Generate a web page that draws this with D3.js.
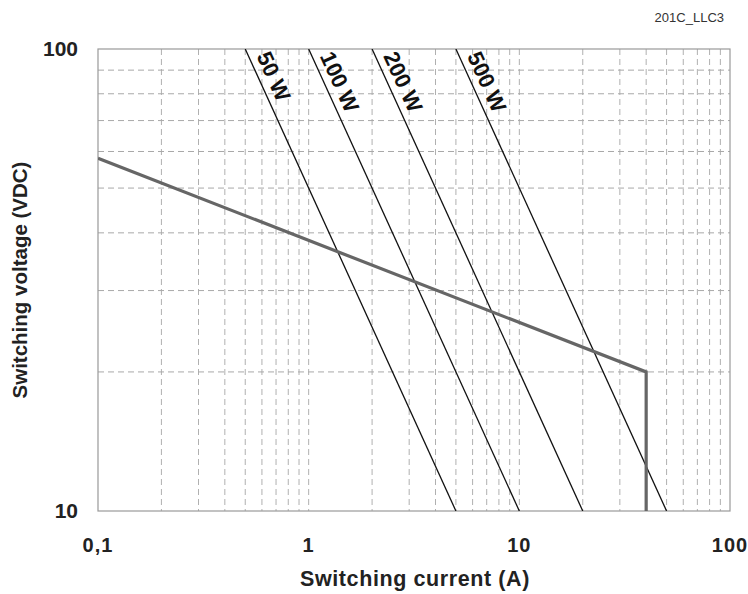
<!DOCTYPE html>
<html>
<head>
<meta charset="utf-8">
<script src="https://cdn.jsdelivr.net/npm/d3@7"></script>
<style>
  body { margin: 0; background: #fff; }
  svg { display: block; }
</style>
</head>
<body>
<div id="chart"></div>
<script>
var width = 748,
    height = 594;

var margin = {top: 49, right: 18, bottom: 83, left: 98};

// data
var currentDomain = [0.1, 100];
var voltageDomain = [10, 100];
var xTickValues = [0.1, 1, 10, 100];
var xTickLabels = ["0,1", "1", "10", "100"];
var yTickValues = [10, 100];
var yTickLabels = ["10", "100"];
var powerLevels = [50, 100, 200, 500]; // W, constant power hyperbolas V*I = P
var powerLabels = ["50 W", "100 W", "200 W", "500 W"];
var limitCurrent = [0.1, 40, 40];     // load limit curve, A
var limitVoltage = [58, 20, 10];      // load limit curve, VDC

var x = d3.scaleLog().domain(currentDomain).range([margin.left, width - margin.right]);
var y = d3.scaleLog().domain(voltageDomain).range([height - margin.bottom, margin.top]);

var svg = d3.select("#chart").append("svg")
    .attr("width", width)
    .attr("height", height);

var plotW = width - margin.left - margin.right,
    plotH = height - margin.top - margin.bottom;

svg.append("defs").append("clipPath").attr("id", "plot")
    .append("rect")
    .attr("x", margin.left).attr("y", margin.top)
    .attr("width", plotW).attr("height", plotH);

// minor grid lines (2..9 in each decade)
var xGrid = x.ticks().filter(function(d) { return d > currentDomain[0] && d < currentDomain[1]; });
var yGrid = y.ticks().filter(function(d) { return d > voltageDomain[0] && d < voltageDomain[1]; });

svg.append("g").selectAll("line").data(xGrid).enter().append("line")
    .attr("x1", function(d) { return x(d); })
    .attr("x2", function(d) { return x(d); })
    .attr("y1", margin.top)
    .attr("y2", height - margin.bottom)
    .attr("stroke", "#b0b0b0")
    .attr("stroke-width", 1)
    .attr("stroke-dasharray", "6,4");

svg.append("g").selectAll("line").data(yGrid).enter().append("line")
    .attr("y1", function(d) { return y(d); })
    .attr("y2", function(d) { return y(d); })
    .attr("x1", margin.left)
    .attr("x2", width - margin.right)
    .attr("stroke", "#a8a8a8")
    .attr("stroke-width", 1)
    .attr("stroke-dasharray", "6,4");

// frame
svg.append("rect")
    .attr("x", margin.left).attr("y", margin.top)
    .attr("width", plotW).attr("height", plotH)
    .attr("fill", "none")
    .attr("stroke", "#999")
    .attr("stroke-width", 1.2);

// constant power lines
var plot = svg.append("g").attr("clip-path", "url(#plot)");

plot.selectAll("line.power").data(powerLevels).enter().append("line")
    .attr("class", "power")
    .attr("x1", function(d) { return x(d / voltageDomain[1]); })
    .attr("y1", y(voltageDomain[1]))
    .attr("x2", function(d) { return x(d / voltageDomain[0]); })
    .attr("y2", y(voltageDomain[0]))
    .attr("stroke", "#111")
    .attr("stroke-width", 1.3);

// load limit curve
var limitLine = d3.line()
    .x(function(d) { return x(d[0]); })
    .y(function(d) { return y(d[1]); });

plot.append("path")
    .datum(d3.zip(limitCurrent, limitVoltage))
    .attr("d", limitLine)
    .attr("fill", "none")
    .attr("stroke", "#666")
    .attr("stroke-width", 3.2);

// power labels, rotated along the lines
powerLevels.forEach(function(p, i) {
    var x0 = x(p / voltageDomain[1]), y0 = y(voltageDomain[1]),
        x1 = x(p / voltageDomain[0]), y1 = y(voltageDomain[0]);
    var angle = Math.atan2(y1 - y0, x1 - x0) * 180 / Math.PI;
    svg.append("text")
        .attr("transform", "translate(" + x0 + "," + y0 + ") rotate(" + angle + ")")
        .attr("x", 11)
        .attr("y", -7)
        .attr("font-family", "Liberation Sans, Arial, sans-serif")
        .attr("font-weight", "bold")
        .attr("font-size", 22)
        .attr("fill", "#111")
        .text(powerLabels[i]);
});

// tick labels
svg.append("g").selectAll("text").data(xTickValues).enter().append("text")
    .attr("x", function(d) { return x(d); })
    .attr("y", 552)
    .attr("text-anchor", "middle")
    .attr("font-family", "Liberation Sans, Arial, sans-serif")
    .attr("font-weight", "bold")
    .attr("font-size", 20)
    .attr("letter-spacing", 1)
    .attr("fill", "#222")
    .text(function(d, i) { return xTickLabels[i]; });

svg.append("g").selectAll("text").data(yTickValues).enter().append("text")
    .attr("x", 78)
    .attr("y", function(d) { return y(d); })
    .attr("dy", "0.35em")
    .attr("text-anchor", "end")
    .attr("font-family", "Liberation Sans, Arial, sans-serif")
    .attr("font-weight", "bold")
    .attr("font-size", 21)
    .attr("fill", "#222")
    .text(function(d, i) { return yTickLabels[i]; });

// axis titles
svg.append("text")
    .attr("x", 415)
    .attr("y", 586)
    .attr("text-anchor", "middle")
    .attr("font-family", "Liberation Sans, Arial, sans-serif")
    .attr("font-weight", "bold")
    .attr("font-size", 21.5)
    .attr("letter-spacing", 0.6)
    .attr("fill", "#222")
    .text("Switching current (A)");

svg.append("text")
    .attr("transform", "translate(27," + (margin.top + plotH / 2) + ") rotate(-90)")
    .attr("text-anchor", "middle")
    .attr("font-family", "Liberation Sans, Arial, sans-serif")
    .attr("font-weight", "bold")
    .attr("font-size", 20.5)
    .attr("fill", "#222")
    .text("Switching voltage (VDC)");

// drawing code
svg.append("text")
    .attr("x", 724)
    .attr("y", 22)
    .attr("text-anchor", "end")
    .attr("font-family", "Liberation Sans Narrow, Arial Narrow, Liberation Sans, sans-serif")
    .attr("font-stretch", "condensed")
    .attr("font-size", 13)
    .attr("fill", "#333")
    .text("201C_LLC3");
</script>
</body>
</html>
